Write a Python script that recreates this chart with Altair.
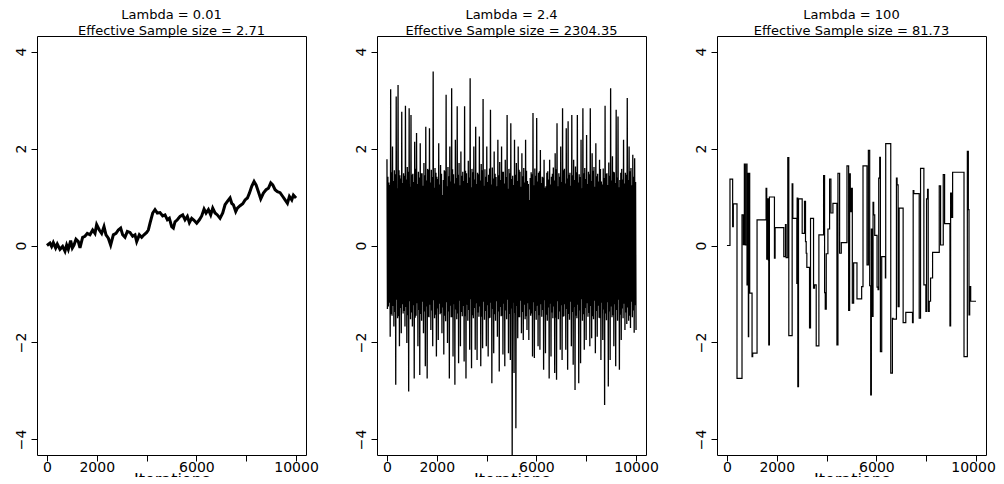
import altair as alt
import pandas as pd

# ---------------- data ----------------
titles = [
    ["Lambda = 0.01", "Effective Sample size = 2.71"],
    ["Lambda = 2.4", "Effective Sample size = 2304.35"],
    ["Lambda = 100", "Effective Sample size = 81.73"],
]
x_ticks = [0, 2000, 4000, 6000, 8000, 10000]
y_ticks = [-4, -2, 0, 2, 4]

# Panel 1: slow random walk (iteration, value)
trace1 = [
    (0, 0.0), (120, 0.05), (187, -0.02), (254, 0.06), (348, -0.05), (415, 0.03),
    (522, -0.08), (629, -0.02), (723, -0.12), (790, 0.01), (857, -0.08), (951, 0.10),
    (1018, -0.05), (1085, 0.01), (1165, 0.13), (1259, 0.08), (1326, -0.05), (1433, 0.17),
    (1526, 0.19), (1620, 0.25), (1727, 0.22), (1834, 0.32), (1928, 0.25), (1995, 0.43),
    (2102, 0.32), (2196, 0.25), (2290, 0.39), (2370, 0.22), (2464, 0.15), (2557, 0.01),
    (2665, 0.22), (2772, 0.25), (2865, 0.32), (2959, 0.36), (3040, 0.22), (3133, 0.17),
    (3227, 0.29), (3334, 0.27), (3441, 0.19), (3535, 0.22), (3602, 0.08), (3709, 0.22),
    (3803, 0.17), (3896, 0.22), (4004, 0.27), (4071, 0.32), (4138, 0.46), (4245, 0.67),
    (4338, 0.74), (4432, 0.67), (4539, 0.68), (4646, 0.61), (4740, 0.63), (4834, 0.53),
    (4914, 0.56), (5008, 0.39), (5075, 0.36), (5142, 0.49), (5235, 0.53), (5343, 0.60),
    (5450, 0.63), (5543, 0.53), (5637, 0.60), (5718, 0.47), (5811, 0.56), (5905, 0.52),
    (6012, 0.46), (6119, 0.53), (6213, 0.61), (6307, 0.75), (6387, 0.67), (6481, 0.74),
    (6574, 0.63), (6655, 0.77), (6749, 0.67), (6842, 0.63), (6949, 0.56), (7057, 0.67),
    (7150, 0.84), (7244, 0.91), (7351, 0.98), (7418, 0.87), (7485, 0.84), (7579, 0.70),
    (7646, 0.77), (7753, 0.82), (7860, 0.86), (7954, 0.94), (8047, 0.98), (8128, 1.08),
    (8221, 1.22), (8315, 1.32), (8395, 1.25), (8489, 1.11), (8583, 0.96), (8690, 1.08),
    (8797, 1.15), (8891, 1.18), (8985, 1.29), (9065, 1.25), (9159, 1.15), (9252, 1.11),
    (9359, 1.09), (9467, 1.01), (9560, 0.94), (9654, 0.87), (9734, 1.01), (9828, 0.94),
    (9895, 1.04), (10000, 0.98),
]

# Panel 2: well-mixing chain, read left to right:
# upward excursions, downward excursions, and the edges of the solid band
upper2 = [
    1.78, 1.30, 3.22, 2.04, 1.55, 3.07, 3.31, 1.45, 2.76, 1.49,
    2.88, 1.62, 2.83, 2.69, 1.48, 2.14, 2.32, 1.52, 2.11, 1.49,
    1.70, 2.45, 1.58, 2.42, 1.56, 3.59, 1.60, 1.42, 2.11, 1.66,
    1.04, 1.55, 3.11, 1.62, 2.04, 3.24, 1.47, 2.18, 2.87, 1.70,
    1.94, 1.52, 2.87, 1.49, 1.75, 3.45, 1.58, 2.04, 2.45, 1.50,
    2.25, 1.68, 3.02, 1.57, 2.04, 1.46, 2.80, 1.61, 1.94, 1.41,
    2.18, 1.72, 2.04, 1.52, 1.77, 2.69, 1.58, 2.52, 1.44, 2.18,
    1.70, 2.04, 1.52, 1.90, 1.60, 2.18, 1.33, 0.94, 1.51, 2.73,
    1.59, 2.63, 1.50, 1.97, 1.42, 1.77, 1.22, 1.53, 1.77, 1.42,
    1.61, 1.90, 2.52, 1.49, 2.04, 2.83, 1.58, 2.42, 2.56, 1.50,
    2.69, 1.77, 1.63, 2.69, 1.47, 2.18, 2.83, 1.60, 2.28, 1.52,
    2.83, 1.90, 1.62, 2.11, 1.48, 1.77, 1.32, 1.59, 2.88, 1.49,
    1.71, 3.24, 1.84, 1.51, 2.80, 2.66, 1.35, 1.58, 2.18, 1.50,
    3.04, 2.04, 1.60, 1.87, 1.80,
]
lower2 = [
    -1.26, -1.88, -1.45, -1.67, -2.87, -1.50, -2.08, -1.81, -1.40, -1.67,
    -2.01, -3.01, -1.52, -1.67, -2.74, -1.45, -2.08, -2.67, -1.55, -1.81,
    -2.49, -2.74, -1.48, -1.74, -2.08, -1.50, -2.29, -1.95, -1.42, -1.81,
    -2.25, -1.56, -2.01, -2.74, -1.48, -2.29, -2.87, -1.52, -2.43, -2.08,
    -1.46, -2.39, -2.74, -1.55, -2.15, -2.53, -1.50, -2.15, -2.36, -1.47,
    -2.49, -2.12, -1.53, -2.08, -2.29, -1.49, -2.84, -2.22, -1.55, -1.88,
    -2.60, -1.46, -2.25, -2.49, -1.52, -2.22, -2.36, -4.32, -2.63, -3.77,
    -1.91, -1.48, -1.81, -1.95, -1.52, -1.74, -1.95, -1.45, -2.29, -2.32,
    -1.53, -2.08, -2.15, -1.47, -2.56, -2.22, -1.55, -2.74, -2.29, -1.50,
    -2.63, -2.77, -1.52, -2.15, -2.36, -1.46, -2.15, -2.56, -1.53, -2.08,
    -2.46, -2.98, -1.50, -2.84, -2.43, -1.55, -2.15, -1.95, -1.47, -2.08,
    -1.91, -1.52, -2.22, -1.88, -1.49, -2.36, -1.95, -3.29, -1.54, -2.91,
    -2.36, -1.48, -2.08, -2.49, -1.55, -2.56, -1.95, -1.50, -1.74, -1.62,
    -1.55, -1.70, -1.48, -1.80, -1.74,
]
band_hi2 = [
    1.42, 1.25, 1.51, 1.33, 1.47, 1.18, 1.55, 1.38, 1.29, 1.44,
    1.36, 1.52, 1.21, 1.46, 1.31, 1.58, 1.27, 1.40, 1.49, 1.23,
    1.45, 1.34, 1.56, 1.30, 1.41, 1.19, 1.50, 1.37, 1.26, 1.48,
    1.35, 1.53, 1.22, 1.43, 1.32, 1.57, 1.28, 1.39, 1.46, 1.24,
    1.44, 1.33, 1.54, 1.29, 1.40, 1.20, 1.51, 1.36, 1.27, 1.47,
    1.34, 1.55, 1.23, 1.42, 1.31, 1.59, 1.26, 1.38, 1.48, 1.22,
    1.45, 1.35, 1.52, 1.28, 1.41, 1.17, 1.49, 1.37, 1.25, 1.46,
    1.33, 1.56, 1.21, 1.43, 1.30, 1.54, 1.27, 1.39, 1.47, 1.24,
    1.44, 1.32, 1.53, 1.29, 1.40, 1.19, 1.50, 1.36, 1.26, 1.48,
    1.34, 1.57, 1.22, 1.42, 1.31, 1.55, 1.28, 1.38, 1.46, 1.23,
    1.45, 1.35, 1.51, 1.30, 1.41, 1.18, 1.49, 1.37, 1.27, 1.47,
    1.33, 1.54, 1.21, 1.43, 1.32, 1.58, 1.26, 1.39, 1.48, 1.25,
    1.44, 1.34, 1.52, 1.29, 1.40, 1.20, 1.50, 1.36, 1.28, 1.46,
    1.35, 1.53, 1.24, 1.42, 1.31,
]
band_lo2 = [
    -1.31, -1.18, -1.42, -1.25, -1.37, -1.12, -1.46, -1.29, -1.21, -1.35,
    -1.27, -1.44, -1.15, -1.38, -1.23, -1.49, -1.19, -1.33, -1.41, -1.16,
    -1.36, -1.26, -1.47, -1.22, -1.34, -1.13, -1.43, -1.30, -1.20, -1.39,
    -1.28, -1.45, -1.17, -1.36, -1.24, -1.48, -1.21, -1.32, -1.40, -1.14,
    -1.37, -1.25, -1.46, -1.22, -1.33, -1.11, -1.44, -1.29, -1.19, -1.38,
    -1.26, -1.47, -1.16, -1.35, -1.23, -1.50, -1.18, -1.31, -1.42, -1.15,
    -1.36, -1.27, -1.45, -1.20, -1.34, -1.12, -1.41, -1.30, -1.18, -1.39,
    -1.25, -1.48, -1.14, -1.37, -1.22, -1.46, -1.19, -1.32, -1.40, -1.17,
    -1.35, -1.24, -1.44, -1.21, -1.33, -1.13, -1.43, -1.28, -1.20, -1.38,
    -1.26, -1.49, -1.15, -1.36, -1.23, -1.47, -1.21, -1.31, -1.41, -1.16,
    -1.37, -1.27, -1.45, -1.22, -1.34, -1.11, -1.42, -1.29, -1.19, -1.39,
    -1.25, -1.46, -1.14, -1.35, -1.24, -1.50, -1.18, -1.32, -1.40, -1.17,
    -1.36, -1.26, -1.44, -1.21, -1.33, -1.12, -1.43, -1.30, -1.20, -1.38,
    -1.28, -1.45, -1.16, -1.34, -1.23,
]

# Panel 3: sticky chain, (iteration where value changes, new value)
steps3 = [
    (0, 0.0), (121, 1.37), (228, 0.39), (255, 0.86), (403, -2.74), (604, 0.63),
    (658, 0.02), (698, 1.68), (738, 0.01), (792, 1.68), (805, -0.81), (832, 1.49),
    (859, -1.88), (872, 1.49), (913, -0.98), (1007, -2.29), (1033, -2.22), (1208, 0.53),
    (1570, 1.18), (1597, -0.28), (1624, 0.96), (1664, -0.30), (1678, -2.05), (1704, 1.00),
    (1906, -0.26), (1933, 0.37), (2281, -0.23), (2349, 0.43), (2375, -0.25), (2442, 1.81),
    (2483, -1.86), (2617, 1.27), (2644, 0.56), (2805, -0.78), (2818, 0.98), (2845, -2.91),
    (2872, 0.96), (3020, 0.25), (3113, 0.91), (3154, 0.08), (3181, -0.16), (3207, -0.45),
    (3315, -1.70), (3355, 0.56), (3476, -0.88), (3516, -0.81), (3583, -2.07), (3691, 0.22),
    (3879, 1.44), (3919, -0.97), (3946, -1.31), (3986, -0.17), (4053, 0.34), (4120, 1.37),
    (4174, 0.67), (4254, 0.87), (4415, -2.05), (4456, 1.49), (4523, -0.16), (4590, 0.06),
    (4818, 1.64), (4885, -1.34), (4925, 1.48), (4952, 0.70), (4992, 1.18), (5033, -1.19),
    (5086, -0.36), (5220, -1.10), (5408, -0.85), (5462, 1.64), (5623, -0.40), (5677, 1.96),
    (5730, -0.83), (5771, -3.08), (5797, 0.34), (5838, -1.46), (5865, 0.89), (5891, 0.63),
    (5932, 0.21), (6026, -0.86), (6066, -0.91), (6093, 1.39), (6133, 1.82), (6160, -2.19),
    (6213, -0.23), (6361, -0.67), (6374, 2.10), (6576, -2.63), (6643, -1.50), (6670, -1.52),
    (6804, 1.39), (6831, 1.25), (6872, -1.26), (6912, 0.77), (7073, -1.59), (7180, -1.38),
    (7449, -1.59), (7476, 1.13), (7503, 1.07), (7718, -1.50), (7772, 1.59), (7906, -0.81),
    (7986, -1.36), (8013, 0.96), (8053, 1.16), (8080, -1.36), (8121, -1.15), (8174, -0.67),
    (8255, -0.14), (8523, 1.23), (8577, 0.01), (8684, 1.46), (8738, 0.45), (8953, -1.66),
    (8980, 1.08), (9020, 0.58), (9060, 1.51), (9517, -2.29), (9651, 1.94), (9691, 0.74),
    (9718, -1.43), (9745, -0.85), (9785, -1.15), (10000, -1.15),
]

# ---------------- tables ----------------
df1 = pd.DataFrame(trace1, columns=["iter", "val"])
vals2 = [v for quad in zip(upper2, band_lo2, band_hi2, lower2) for v in quad]
n2 = len(vals2)
df2 = pd.DataFrame({"iter": [10000 * k / (n2 - 1) for k in range(n2)], "val": vals2})
df3 = pd.DataFrame(steps3, columns=["iter", "val"])

FONT = "DejaVu Sans"


def panel(df, title, width_px, interp=None, last_label_shift=0):
    x_axis = alt.Axis(
        values=x_ticks, title="Iterations", grid=False, domain=False,
        tickSize=6, tickColor="black", labelPadding=-1,
        labelFont=FONT, labelFontSize=14, labelColor="black",
        labelFlush=False, labelOverlap=False,
        labelExpr="(datum.value == 4000 || datum.value == 8000) ? '' : datum.label",
        labelOffset={"condition": {"test": "datum.value == 10000", "value": last_label_shift}, "value": 0},
        format="d",
        titleFont=FONT, titleFontSize=16, titleFontWeight="normal",
        titleColor="black", titlePadding=-3,
    )
    y_axis = alt.Axis(
        values=y_ticks, title=None, grid=False, domain=False,
        tickSize=6, tickColor="black", labelPadding=3,
        labelFont=FONT, labelFontSize=14, labelColor="black",
        labelAngle=270, labelAlign="center", labelBaseline="bottom",
        labelFlush=False, labelOverlap=False,
    )
    mk = dict(color="black", strokeWidth=width_px, clip=True)
    if interp:
        mk["interpolate"] = interp
    return (
        alt.Chart(df)
        .mark_line(**mk)
        .encode(
            x=alt.X("iter:Q", scale=alt.Scale(domain=[-400, 10400], nice=False, zero=False), axis=x_axis),
            y=alt.Y("val:Q", scale=alt.Scale(domain=[-4.32, 4.32], nice=False, zero=False), axis=y_axis),
        )
        .properties(
            width=269, height=419,
            title=alt.TitleParams(
                text=title, font=FONT, fontSize=13, fontWeight="normal",
                color="black", anchor="middle", lineHeight=16, offset=-2,
            ),
        )
    )


p1 = panel(df1, titles[0], 3.0)
p2 = panel(df2, titles[1], 1.3)
p3 = panel(df3, titles[2], 1.2, interp="step-after", last_label_shift=-3)

chart = (
    alt.hconcat(p1, p2, p3, spacing=71, bounds="flush")
    .properties(padding={"left": 5, "top": 0, "right": 0, "bottom": -11})
    .configure_view(stroke="black", strokeWidth=1)
)

chart.save("out.html", embed_options={"renderer": "svg", "actions": False})
